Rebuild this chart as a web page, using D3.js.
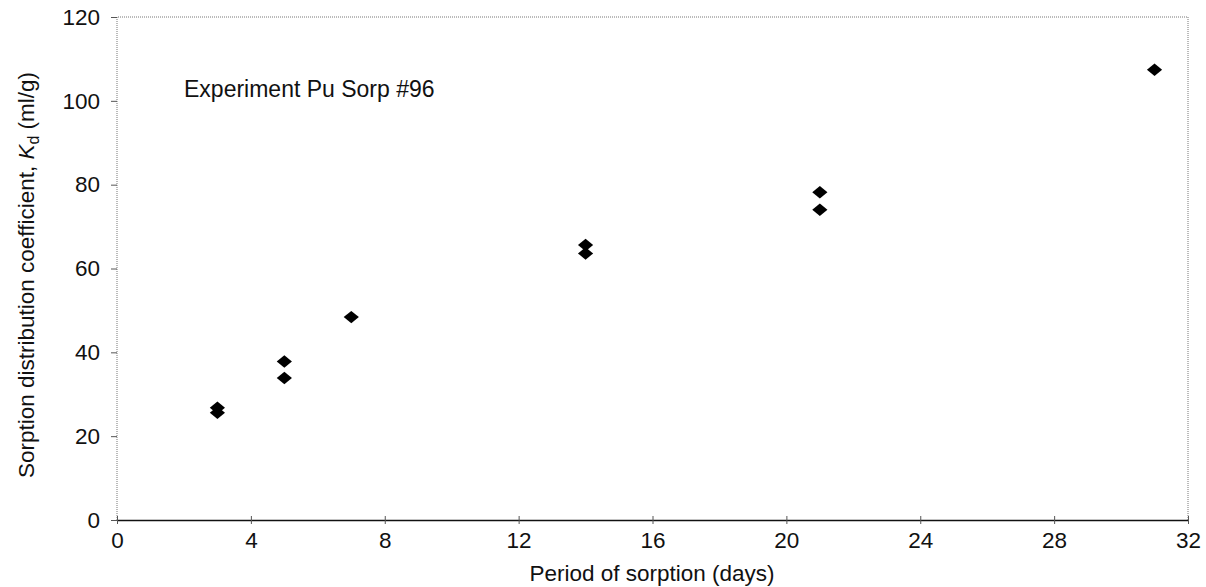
<!DOCTYPE html>
<html>
<head>
<meta charset="utf-8">
<script src="https://cdn.jsdelivr.net/npm/d3@7"></script>
<style>
    body { margin: 0; background: #fff; }
    svg text { font-family: "Liberation Sans", Arial, sans-serif; }
</style>
</head>
<body>
<svg id="chart" width="1206" height="587"></svg>
<script>
// sorption period (days) and measured Kd (ml/g)
var days = [3, 3, 5, 5, 7, 14, 14, 21, 21, 31];
var kd = [26.8, 25.6, 37.8, 33.9, 48.4, 65.6, 63.6, 78.2, 74.0, 107.4];
var xTicks = [0, 4, 8, 12, 16, 20, 24, 28, 32];
var yTicks = [0, 20, 40, 60, 80, 100, 120];

var svg = d3.select("svg#chart");

var plotLeft = 117,
    plotRight = 1188,
    plotTop = 17,
    plotBottom = 520;

var x = d3.scaleLinear().domain([0, 32]).range([plotLeft, plotRight]);
var y = d3.scaleLinear().domain([0, 120]).range([plotBottom, plotTop]);

// frame (dotted grey on three sides)
svg.append("path")
    .attr("d", "M" + plotLeft + "," + plotBottom + "V" + plotTop + "H" + plotRight + "V" + plotBottom)
    .attr("fill", "none")
    .attr("stroke", "#777")
    .attr("stroke-width", 1)
    .attr("stroke-dasharray", "1,1");

// y axis
var yAxis = svg.append("g")
    .attr("transform", "translate(" + plotLeft + ",0)")
    .call(d3.axisLeft(y).tickValues(yTicks).tickSize(6).tickPadding(11));
yAxis.select(".domain").remove();
yAxis.selectAll("line").attr("stroke", "#555");
yAxis.selectAll("text")
    .style("font-size", "22.5px")
    .attr("fill", "#111");

// x axis
var xAxis = svg.append("g")
    .attr("transform", "translate(0," + plotBottom + ")")
    .call(d3.axisBottom(x).tickValues(xTicks).tickSize(0).tickPadding(12));
xAxis.select(".domain")
    .attr("stroke", "#111")
    .attr("stroke-width", 1.5);
xAxis.selectAll(".tick")
    .append("line")
    .attr("y1", -4)
    .attr("y2", 4)
    .attr("stroke", "#555");
xAxis.selectAll("text")
    .style("font-size", "22.5px")
    .attr("fill", "#111");

// points
var symbol = d3.symbol().type(d3.symbolDiamond).size(110);
svg.append("g")
    .selectAll("path")
    .data(days)
    .enter()
    .append("path")
    .attr("transform", (d, i) => "translate(" + x(d) + "," + y(kd[i]) + ") scale(1.35,0.64)")
    .attr("d", symbol)
    .attr("fill", "#000");

// annotation
svg.append("text")
    .attr("x", 184)
    .attr("y", 97)
    .style("font-size", "23px")
    .attr("fill", "#111")
    .text("Experiment Pu Sorp #96");

// axis titles
svg.append("text")
    .attr("x", 652)
    .attr("y", 581)
    .style("text-anchor", "middle")
    .style("font-size", "22.5px")
    .attr("fill", "#111")
    .text("Period of sorption (days)");

var yTitle = svg.append("text")
    .attr("transform", "translate(34,275) rotate(-90)")
    .style("text-anchor", "middle")
    .style("font-size", "22.5px")
    .attr("fill", "#111");
yTitle.append("tspan").text("Sorption distribution coefficient, ");
yTitle.append("tspan").style("font-style", "italic").text("K");
yTitle.append("tspan").attr("dy", 5).style("font-size", "16px").text("d");
yTitle.append("tspan").attr("dy", -5).text(" (ml/g)");
</script>
</body>
</html>
